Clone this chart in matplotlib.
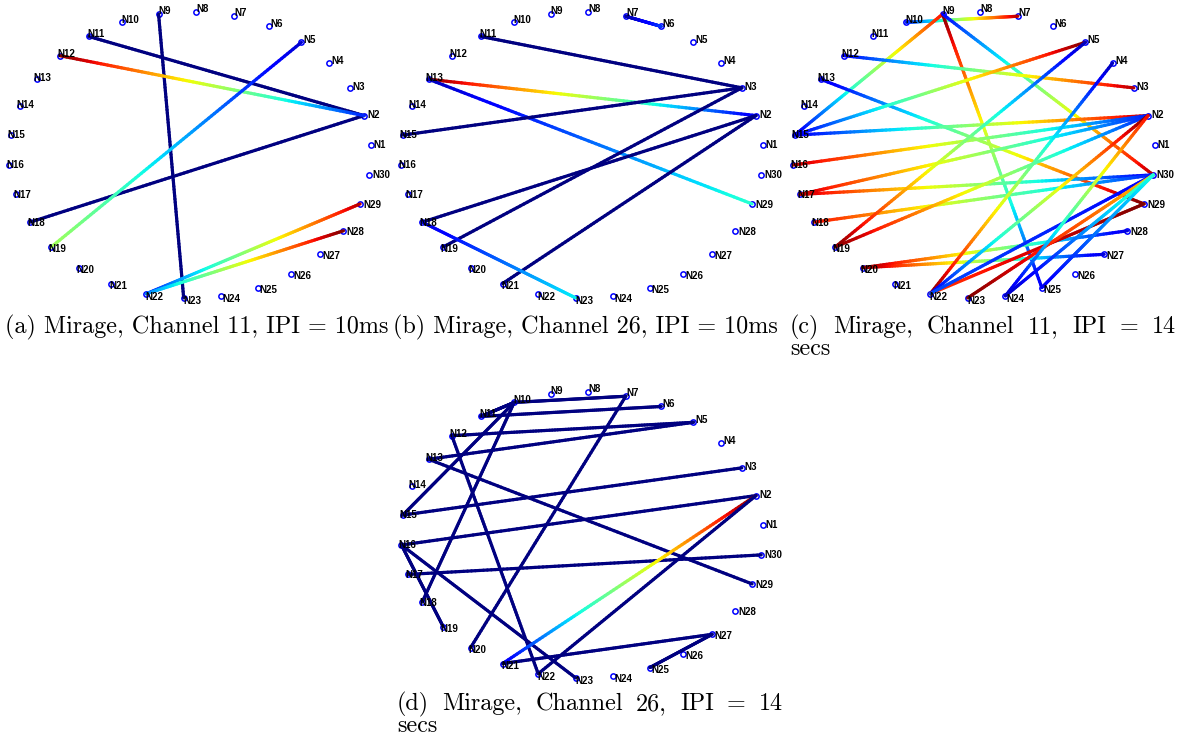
import numpy as np
import matplotlib
matplotlib.use("Agg")
import matplotlib.pyplot as plt
from matplotlib.collections import LineCollection

W, H = 1180, 738

node_names = [f"N{k}" for k in range(1, 31)]

# edges as (from, to) and jet colour value at each end
edges_a = [(9, 23), (11, 2), (18, 2), (12, 2), (19, 5), (22, 29), (22, 28)]
shade_a = [(0.0, 0.0), (0.0, 0.0), (0.0, 0.0), (1.0, 0.16), (0.55, 0.07), (0.15, 0.95), (0.25, 1.0)]

edges_b = [(7, 6), (11, 3), (13, 2), (13, 29), (15, 3), (18, 2), (19, 3), (21, 2), (18, 23)]
shade_b = [(0.03, 0.18), (0.0, 0.0), (1.0, 0.1), (0.05, 0.4), (0.0, 0.0), (0.0, 0.0), (0.0, 0.0), (0.0, 0.0), (0.08, 0.36)]

edges_c = [(10, 7), (9, 15), (9, 25), (9, 30), (12, 3), (13, 29), (15, 5), (15, 2),
           (16, 2), (17, 2), (17, 30), (18, 30), (19, 5), (19, 2), (20, 28), (20, 27),
           (22, 4), (22, 2), (22, 29), (22, 30), (23, 30), (24, 30), (24, 2), (25, 30)]
shade_c = [(0.15, 0.95), (0.9, 0.1), (1.0, 0.1), (0.12, 0.95), (0.12, 0.95), (0.08, 1.0), (0.1, 1.0), (0.1, 0.95),
           (0.95, 0.15), (0.95, 0.15), (0.95, 0.1), (0.9, 0.15), (1.0, 0.05), (1.0, 0.15), (1.0, 0.08), (1.0, 0.08),
           (1.0, 0.05), (0.1, 1.0), (0.85, 1.0), (0.2, 0.12), (1.0, 0.7), (0.05, 0.45), (0.05, 0.9), (0.1, 0.38)]

edges_d = [(10, 7), (11, 6), (10, 11), (10, 15), (10, 18), (12, 5), (13, 5), (12, 22), (13, 29), (15, 3),
           (16, 2), (16, 19), (16, 23), (17, 30), (7, 20), (21, 2), (22, 2), (21, 27), (25, 27)]
shade_d = [(0.0, 0.0)] * 15 + [(0.1, 1.0), (0.0, 0.0), (0.0, 0.0), (0.0, 0.0)]

captions = [
    ["(a) Mirage, Channel 11, IPI = 10ms"],
    ["(b) Mirage, Channel 26, IPI = 10ms"],
    ["(c) Mirage,  Channel  11,  IPI  =  14", "secs"],
    ["(d) Mirage,  Channel  26,  IPI  =  14", "secs"],
]

# panel centre / radii in pixels
centres = [(190, 155), (582, 155), (974, 155), (582, 535)]
RX, RY = 181, 143


def draw_graph(ax, edges, shades):
    ang = np.deg2rad(4 + 12 * np.arange(30))
    x, y = np.cos(ang), np.sin(ang)
    ax.plot(x, y, 'o', mfc='none', mec='blue', ms=3.8, mew=1.1, zorder=2, clip_on=False)
    t = np.linspace(0, 1, 90)
    for (a, b), (c0, c1) in zip(edges, shades):
        px = x[a - 1] + (x[b - 1] - x[a - 1]) * t
        py = y[a - 1] + (y[b - 1] - y[a - 1]) * t
        pts = np.column_stack([px, py])
        segs = np.stack([pts[:-1], pts[1:]], axis=1)
        vals = c0 + (c1 - c0) * (t[:-1] + t[1:]) / 2
        lc = LineCollection(segs, colors=plt.cm.jet(vals), linewidths=2.3,
                            capstyle='round', zorder=3, clip_on=False)
        ax.add_collection(lc)
    for k, name in enumerate(node_names):
        ax.text(1.018 * x[k], 1.02 * y[k], name, ha='left', va='center', fontsize=7,
                fontweight='bold', family='Liberation Sans', zorder=4, clip_on=False)
    ax.set_xlim(-1, 1)
    ax.set_ylim(-1, 1)
    ax.axis('off')


fig = plt.figure(figsize=(W / 100, H / 100), dpi=100)
for (cx, cy), e, s in zip(centres, [edges_a, edges_b, edges_c, edges_d],
                          [shade_a, shade_b, shade_c, shade_d]):
    ax = fig.add_axes([(cx - RX) / W, 1 - (cy + RY) / H, 2 * RX / W, 2 * RY / H])
    draw_graph(ax, e, s)

# captions (justified like LaTeX subcaptions)
renderer = fig.canvas.get_renderer()
probe = fig.text(0, 0, captions[0][0], fontsize=10, family='cmr10')
w10 = probe.get_window_extent(renderer).width
probe.remove()
fs = 10 * 383 / w10

cap_pos = [(5, 327), (393, 327), (790, 327), (397, 704)]
line_gap = 22
for (x0, y0), lines in zip(cap_pos, captions):
    for i, line in enumerate(lines):
        yy = 1 - (y0 + i * line_gap) / H
        if len(lines) > 1 and i == 0:
            words = line.split()
            ws = []
            for wd in words:
                tt = fig.text(0, 0, wd, fontsize=fs, family='cmr10')
                ws.append(tt.get_window_extent(renderer).width)
                tt.remove()
            gap = (386 - sum(ws)) / (len(words) - 1)
            xx = x0
            for wd, wv in zip(words, ws):
                fig.text(xx / W, yy, wd, fontsize=fs, family='cmr10', va='center')
                xx += wv + gap
        else:
            fig.text(x0 / W, yy, line, fontsize=fs, family='cmr10', va='center')

fig.savefig('out.png', dpi=100)
